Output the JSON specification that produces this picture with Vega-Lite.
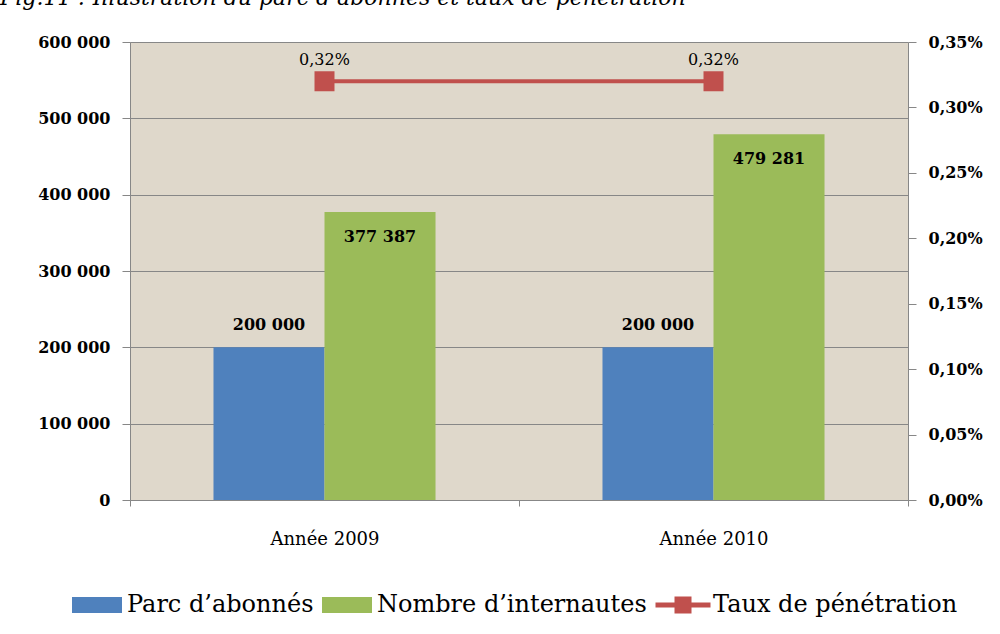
{
  "$schema": "https://vega.github.io/schema/vega-lite/v6.json",
  "autosize": {"type": "none"},
  "width": 778,
  "height": 458,
  "padding": {"left": 130, "top": 42, "right": 92, "bottom": 134},
  "background": "white",
  "title": {
    "text": "Fig.11 : Illustration du parc d’abonnés et taux de pénétration",
    "anchor": "start",
    "frame": "group",
    "dx": -130,
    "offset": 2,
    "baseline": "bottom",
    "font": "DejaVu Serif",
    "fontStyle": "italic",
    "fontWeight": "normal",
    "fontSize": 22,
    "color": "black"
  },
  "config": {
    "locale": {"number": {"decimal": ",", "thousands": " ", "grouping": [3], "currency": ["", " €"]}},
    "view": {"stroke": null, "fill": "#DFD8CB"},
    "font": "DejaVu Serif",
    "axis": {
      "domainColor": "#878787",
      "tickColor": "#878787",
      "gridColor": "#878787",
      "labelColor": "black",
      "labelFont": "DejaVu Serif"
    }
  },
  "datasets": {
    "barres": [
      {"annee": "Année 2009", "serie": "Parc d’abonnés", "valeur": 200000},
      {"annee": "Année 2009", "serie": "Nombre d’internautes", "valeur": 377387},
      {"annee": "Année 2010", "serie": "Parc d’abonnés", "valeur": 200000},
      {"annee": "Année 2010", "serie": "Nombre d’internautes", "valeur": 479281}
    ],
    "taux": [
      {"annee": "Année 2009", "serie": "Taux de pénétration", "taux": 0.0032},
      {"annee": "Année 2010", "serie": "Taux de pénétration", "taux": 0.0032}
    ]
  },
  "layer": [
    {
      "data": {"name": "barres"},
      "layer": [
        {
          "mark": {"type": "bar"},
          "encoding": {
            "x": {
              "field": "annee", "type": "nominal",
              "scale": {"paddingInner": 0, "paddingOuter": 0},
              "axis": {
                "title": null, "labelAngle": 0, "tickBand": "extent", "tickSize": 6,
                "labelPadding": 24, "labelFontSize": 18, "labelFontWeight": "normal", "grid": false
              }
            },
            "xOffset": {
              "field": "serie", "type": "nominal",
              "scale": {"domain": ["Parc d’abonnés", "Nombre d’internautes"], "paddingInner": 0, "paddingOuter": 0.752}
            },
            "y": {
              "field": "valeur", "type": "quantitative",
              "scale": {"domain": [0, 600000], "nice": false},
              "axis": {
                "title": null, "orient": "left", "values": [0, 100000, 200000, 300000, 400000, 500000, 600000],
                "format": ",d", "grid": true, "tickSize": 8, "labelPadding": 12,
                "labelFontSize": 16, "labelFontWeight": "bold"
              }
            },
            "color": {
              "field": "serie", "type": "nominal",
              "scale": {
                "domain": ["Parc d’abonnés", "Nombre d’internautes", "Taux de pénétration"],
                "range": ["#4F81BD", "#9BBB59", "#C0504D"]
              },
              "legend": {
                "title": null,
                "orient": "none",
                "direction": "horizontal",
                "legendX": -58,
                "legendY": 538,
                "padding": 0,
                "symbolSize": 2500,
                "symbolStrokeWidth": 0,
                "labelFont": "DejaVu Serif",
                "labelFontSize": 24,
                "labelColor": "black",
                "labelLimit": 0,
                "labelOffset": 5,
                "columnPadding": 8,
                "encode": {
                  "symbols": {
                    "update": {
                      "shape": {"signal": "datum.value === 'Taux de pénétration' ? 'M-1.1,-0.1H1.1V0.1H-1.1Z M-0.34,-0.34H0.34V0.34H-0.34Z' : 'M-1,-0.32H1V0.32H-1Z'"},
                      "fill": {"scale": "color", "field": "value"},
                      "strokeWidth": {"value": 0},
                      "opacity": {"value": 1}
                    }
                  }
                }
              }
            }
          }
        },
        {
          "transform": [{"filter": "datum.serie === 'Parc d’abonnés'"}],
          "mark": {"type": "text", "baseline": "alphabetic", "dy": -17, "fontSize": 16, "fontWeight": "bold", "font": "DejaVu Serif", "color": "black"},
          "encoding": {
            "x": {"field": "annee", "type": "nominal"},
            "xOffset": {"field": "serie", "type": "nominal"},
            "y": {"field": "valeur", "type": "quantitative"},
            "text": {"field": "valeur", "type": "quantitative", "format": ",d"}
          }
        },
        {
          "transform": [{"filter": "datum.serie === 'Nombre d’internautes'"}],
          "mark": {"type": "text", "baseline": "alphabetic", "dy": 30, "fontSize": 16, "fontWeight": "bold", "font": "DejaVu Serif", "color": "black"},
          "encoding": {
            "x": {"field": "annee", "type": "nominal"},
            "xOffset": {"field": "serie", "type": "nominal"},
            "y": {"field": "valeur", "type": "quantitative"},
            "text": {"field": "valeur", "type": "quantitative", "format": ",d"}
          }
        }
      ]
    },
    {
      "data": {"name": "taux"},
      "layer": [
        {
          "mark": {"type": "line", "strokeWidth": 4},
          "encoding": {
            "x": {"field": "annee", "type": "nominal"},
            "y": {
              "field": "taux", "type": "quantitative",
              "scale": {"domain": [0, 0.0035], "nice": false},
              "axis": {
                "title": null, "orient": "right",
                "values": [0, 0.0005, 0.001, 0.0015, 0.002, 0.0025, 0.003, 0.0035],
                "format": ".2%", "grid": false, "tickSize": 8, "labelPadding": 12,
                "labelFontSize": 16, "labelFontWeight": "bold"
              }
            },
            "color": {"field": "serie", "type": "nominal"}
          }
        },
        {
          "mark": {"type": "point", "shape": "square", "filled": true, "size": 400, "opacity": 1},
          "encoding": {
            "x": {"field": "annee", "type": "nominal"},
            "y": {"field": "taux", "type": "quantitative"},
            "color": {"field": "serie", "type": "nominal"}
          }
        },
        {
          "mark": {"type": "text", "baseline": "alphabetic", "dy": -16, "fontSize": 16, "fontWeight": "normal", "font": "DejaVu Serif", "color": "black"},
          "encoding": {
            "x": {"field": "annee", "type": "nominal"},
            "y": {"field": "taux", "type": "quantitative"},
            "text": {"field": "taux", "type": "quantitative", "format": ".2%"}
          }
        }
      ]
    }
  ],
  "resolve": {"scale": {"y": "independent"}}
}
